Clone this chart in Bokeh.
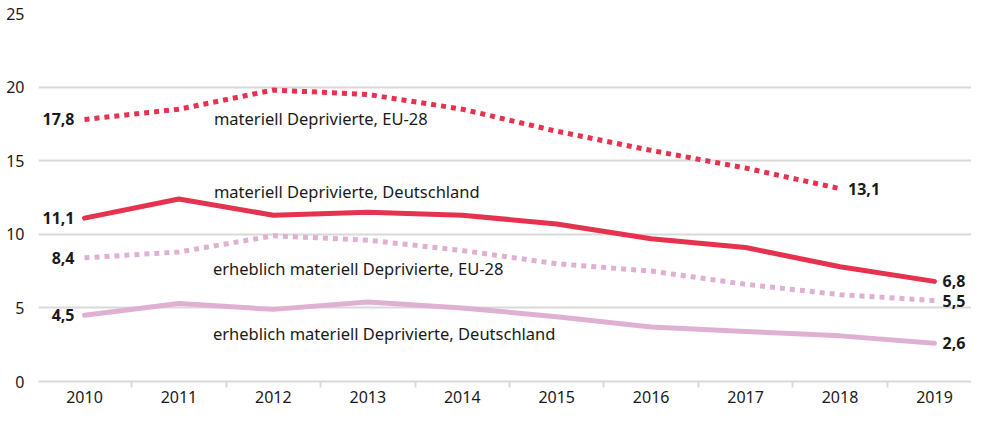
from bokeh.plotting import figure
from bokeh.models import ColumnDataSource, FixedTicker, Range1d, CustomJSTickFormatter
from bokeh.embed import file_html
from bokeh.resources import INLINE
from bokeh.core.properties import value

years = [2010, 2011, 2012, 2013, 2014, 2015, 2016, 2017, 2018, 2019]
eu_mat = [17.8, 18.5, 19.8, 19.5, 18.5, 17.0, 15.7, 14.5, 13.1]
de_mat = [11.1, 12.4, 11.3, 11.5, 11.3, 10.7, 9.7, 9.1, 7.8, 6.8]
eu_erh = [8.4, 8.8, 9.9, 9.6, 8.9, 8.0, 7.5, 6.6, 5.9, 5.5]
de_erh = [4.5, 5.3, 4.9, 5.4, 5.0, 4.4, 3.7, 3.4, 3.1, 2.6]
y_ticks = [0, 5, 10, 15, 20, 25]

series_names = ["materiell Deprivierte, EU-28",
                "materiell Deprivierte, Deutschland",
                "erheblich materiell Deprivierte, EU-28",
                "erheblich materiell Deprivierte, Deutschland"]
name_x = [2011.37, 2011.37, 2011.36, 2011.36]
name_y = [17.9, 12.9, 7.65, 3.23]

RED = "#e5324f"
PINK = "#e0b0d3"
FONT = "Noto Sans"

p = figure(width=971, height=409, output_backend="svg", toolbar_location=None,
           x_range=Range1d(2009.513, 2019.392), y_range=Range1d(0, 25),
           min_border_left=38, min_border_right=0, min_border_top=13, min_border_bottom=28)
p.outline_line_color = None
p.background_fill_color = "white"

p.xgrid.grid_line_color = None
p.ygrid.grid_line_color = "#d9d9d9"
p.ygrid.grid_line_width = 2
p.ygrid.ticker = FixedTicker(ticks=y_ticks)

p.yaxis.ticker = FixedTicker(ticks=y_ticks)
p.yaxis.axis_line_color = None
p.yaxis.major_tick_line_color = None
p.yaxis.minor_tick_line_color = None
p.yaxis.major_label_standoff = 8
p.yaxis.major_label_text_font = FONT
p.yaxis.major_label_text_font_size = "16px"
p.yaxis.major_label_text_color = "#1a1a1a"

p.xaxis.ticker = FixedTicker(ticks=years, minor_ticks=[y + 0.5 for y in years[:-1]])
p.xaxis.axis_line_color = "#d9d9d9"
p.xaxis.axis_line_width = 2
p.xaxis.major_tick_line_color = None
p.xaxis.major_tick_out = 0
p.xaxis.major_tick_in = 0
p.xaxis.minor_tick_line_color = "#d9d9d9"
p.xaxis.minor_tick_line_width = 2
p.xaxis.minor_tick_out = 6
p.xaxis.minor_tick_in = 0
p.xaxis.major_label_standoff = 3
p.xaxis.major_label_text_font = FONT
p.xaxis.major_label_text_font_size = "16px"
p.xaxis.major_label_text_color = "#1a1a1a"
p.xaxis.formatter = CustomJSTickFormatter(code="return tick.toString();")

p.line(years[:len(de_erh)], de_erh, line_color=PINK, line_width=5, line_cap="round", line_join="round")
p.line(years[:len(eu_erh)], eu_erh, line_color=PINK, line_width=5, line_dash="5 5", line_cap="butt")
p.line(years[:len(de_mat)], de_mat, line_color=RED, line_width=5, line_cap="round", line_join="round")
p.line(years[:len(eu_mat)], eu_mat, line_color=RED, line_width=5, line_dash="5 5", line_cap="butt")

def fmt(v):
    return f"{v:.1f}".replace(".", ",")

all_series = [eu_mat, de_mat, eu_erh, de_erh]
left_src = ColumnDataSource(dict(x=[years[0]] * 4, y=[s[0] for s in all_series],
                                 t=[fmt(s[0]) for s in all_series]))
p.text(x="x", y="y", text="t", source=left_src, text_align="right", text_baseline="middle",
       x_offset=-10, text_font=value(FONT), text_font_size="16px", text_font_style="bold",
       text_color="#1a1a1a")
right_src = ColumnDataSource(dict(x=[years[len(s) - 1] for s in all_series], y=[s[-1] for s in all_series],
                                  t=[fmt(s[-1]) for s in all_series]))
p.text(x="x", y="y", text="t", source=right_src, text_align="left", text_baseline="middle",
       x_offset=8, text_font=value(FONT), text_font_size="16px", text_font_style="bold",
       text_color="#1a1a1a")

name_src = ColumnDataSource(dict(x=name_x, y=name_y, t=series_names))
p.text(x="x", y="y", text="t", source=name_src, text_align="left", text_baseline="middle",
       text_font=value(FONT), text_font_size="16.5px", text_color="#1a1a1a")

open("out.html", "w").write(file_html(p, INLINE))
